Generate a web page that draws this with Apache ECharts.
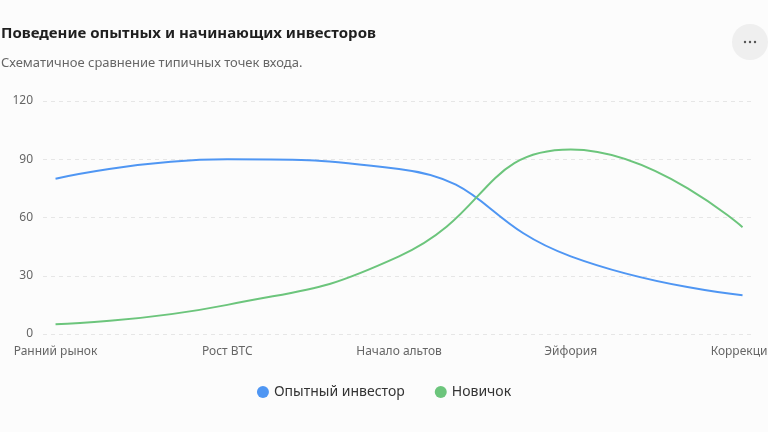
<!DOCTYPE html>
<html>
<head>
<meta charset="utf-8">
<script src="https://cdn.jsdelivr.net/npm/echarts@6/dist/echarts.min.js"></script>
<style>
    html, body { margin: 0; padding: 0; background: #fcfcfc; }
    #chart { width: 768px; height: 432px; }
</style>
</head>
<body>
<div id="chart"></div>
<script>
// данные графика
var categories = ['Ранний рынок', 'Рост BTC', 'Начало альтов', 'Эйфория', 'Коррекция'];
var proValues = [80, 90, 85, 40, 20];
var newbieValues = [5, 15, 40, 95, 55];
var yTicks = [0, 30, 60, 90, 120];

function toPairs(values) {
    var out = [];
    for (var i = 0; i < values.length; i++) {
        out.push([i, values[i]]);
    }
    return out;
}

var chart = echarts.init(document.getElementById('chart'));
var font = '"Noto Sans", "Open Sans", sans-serif';

var option = {
    animation: false,
    backgroundColor: '#fcfcfc',
    textStyle: { fontFamily: font },
    title: {
        text: 'Поведение опытных и начинающих инвесторов',
        subtext: 'Схематичное сравнение типичных точек входа.',
        left: -4,
        top: 21,
        itemGap: 16,
        textStyle: {
            fontSize: 15,
            fontWeight: 'bold',
            color: '#1f1f1f',
            fontFamily: font
        },
        subtextStyle: {
            fontSize: 13,
            color: '#666',
            fontFamily: font
        }
    },
    legend: {
        bottom: 28,
        left: 'center',
        icon: 'circle',
        itemWidth: 12,
        itemHeight: 12,
        itemGap: 30,
        textStyle: { fontSize: 14, color: '#333', fontFamily: font },
        data: ['Опытный инвестор', 'Новичок']
    },
    grid: {
        top: 101,
        left: 43,
        right: 15,
        bottom: 98,
        containLabel: false,
        outerBoundsMode: 'none'
    },
    xAxis: {
        type: 'value',
        min: -0.073,
        max: 4.061,
        splitLine: { show: false },
        axisLine: { show: false },
        axisTick: { show: false },
        axisLabel: {
            customValues: [0, 1, 2, 3, 4],
            color: '#666',
            fontSize: 12,
            margin: 12,
            hideOverlap: false,
            formatter: function (v) {
                return categories[Math.round(v)] || '';
            }
        }
    },
    yAxis: {
        type: 'value',
        min: 0,
        max: 120,
        interval: 30,
        axisLine: { show: false },
        axisTick: { show: false },
        axisLabel: {
            color: '#666',
            fontSize: 12,
            margin: 10,
            padding: [7, 0, 0, 0],
            formatter: function (v) {
                return yTicks.indexOf(v) >= 0 ? String(v) : '';
            }
        },
        splitLine: {
            show: true,
            lineStyle: { color: '#e6e6e6', type: [4, 4], width: 1 }
        }
    },
    graphic: [
        {
            type: 'circle',
            shape: { cx: 750, cy: 42, r: 18 },
            style: { fill: '#efefef' }
        },
        { type: 'circle', shape: { cx: 745, cy: 42, r: 1.2 }, style: { fill: '#555' } },
        { type: 'circle', shape: { cx: 750, cy: 42, r: 1.2 }, style: { fill: '#555' } },
        { type: 'circle', shape: { cx: 755, cy: 42, r: 1.2 }, style: { fill: '#555' } }
    ],
    series: [
        {
            name: 'Опытный инвестор',
            type: 'line',
            smooth: true,
            showSymbol: false,
            symbol: 'circle',
            itemStyle: { color: '#4f96f3' },
            lineStyle: { width: 2, color: '#4f96f3' },
            data: toPairs(proValues)
        },
        {
            name: 'Новичок',
            type: 'line',
            smooth: true,
            showSymbol: false,
            symbol: 'circle',
            itemStyle: { color: '#6cc57c' },
            lineStyle: { width: 2, color: '#6cc57c' },
            data: toPairs(newbieValues)
        }
    ]
};
chart.setOption(option);
</script>
</body>
</html>
